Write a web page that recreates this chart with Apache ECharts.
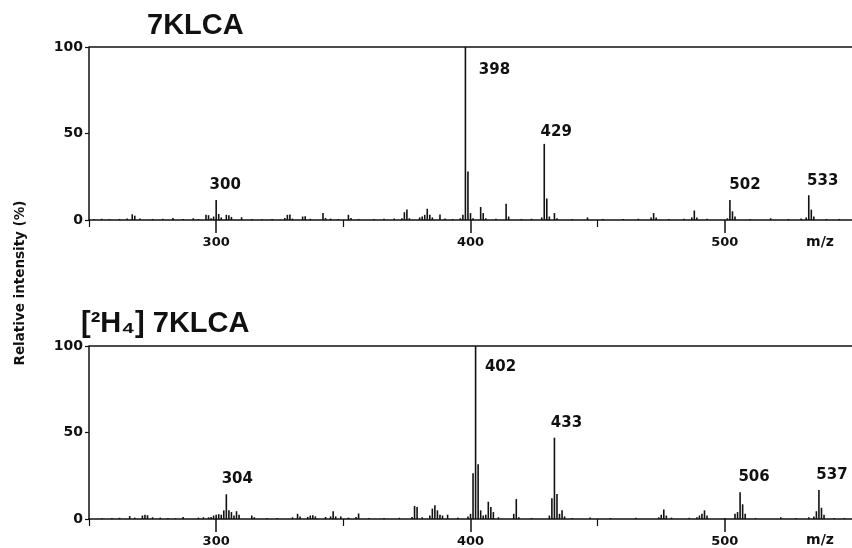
<!DOCTYPE html>
<html>
<head>
<meta charset="utf-8">
<script src="https://cdn.jsdelivr.net/npm/echarts@6/dist/echarts.min.js"></script>
<style>html,body{margin:0;padding:0;background:#fff}#c{width:852px;height:548px}</style>
</head>
<body>
<div id="c"></div>
<script>
// ---- data ----
const titleTop = '7KLCA';
const titleBottom = '[²H₄] 7KLCA';
const yAxisName = 'Relative intensity (%)';
const xTickLabels = [300, 400, 500];
const xMinorTicks = [250, 350, 450];
const yTickLabels = [0, 50, 100];

const mzTop = [252,255,258,262,265,267,268,270,275,279,283,287,291,293,296,297,298,299,300,301,302,304,305,306,310,314,318,322,327,328,329,330,334,335,337,342,343,345,348,352,353,356,362,366,370,373,374,375,376,380,381,382,383,384,385,388,390,393,396,397,398,399,400,401,404,405,406,410,414,415,420,424,428,429,430,431,433,434,440,446,452,460,466,471,472,473,478,484,487,488,489,493,501,502,503,504,510,518,525,530,532,533,534,535,540,545];
const intTop = [0.5,0.7,0.5,0.6,0.8,3.3,2.5,0.8,0.6,0.7,1.2,0.6,1.0,0.6,3.0,2.8,1.0,2.0,11.5,3.5,1.5,3.0,2.8,1.8,1.6,0.6,0.5,0.6,1.2,3.0,3.2,0.8,2.0,2.2,0.7,4.0,1.2,0.8,0.6,3.0,1.2,0.6,0.6,0.7,0.8,1.0,4.5,6.0,1.0,1.5,2.0,3.0,6.5,3.0,1.5,3.2,0.8,0.6,1.0,3.0,100,28,4.0,1.0,7.5,4.0,1.0,0.7,9.4,2.0,0.6,0.7,1.5,44,12.5,2.0,4.0,1.0,0.6,1.5,0.6,0.6,0.7,1.5,4.0,1.5,0.6,0.7,1.5,5.5,1.5,0.7,1.0,11.5,5.0,2.0,0.5,1.0,0.6,0.8,1.5,14.3,6.0,2.0,0.6,0.6];
const labelsTop = [300, 398, 429, 502, 533];

const mzBottom = [255,259,262,266,268,271,272,273,275,278,281,284,287,293,295,297,298,299,300,301,302,303,304,305,306,307,308,309,314,315,320,324,330,332,333,336,337,338,339,343,345,346,347,349,352,355,356,360,366,372,377,378,379,381,384,385,386,387,388,389,391,395,399,400,401,402,403,404,405,406,407,408,409,411,417,418,419,424,431,432,433,434,435,436,437,440,447,455,465,474,475,476,477,479,486,489,490,491,492,493,500,504,505,506,507,508,512,522,528,533,535,536,537,538,539,543,547];
const intBottom = [0.5,0.6,0.7,1.7,0.8,2.0,2.5,2.2,1.0,0.8,0.6,0.5,1.2,0.8,1.0,1.0,1.2,2.0,2.5,2.8,2.5,5.0,14.3,5.0,4.0,2.0,4.5,2.5,2.0,1.0,0.6,0.6,1.0,3.0,1.5,1.2,2.0,2.2,1.5,1.2,1.5,4.5,1.5,1.5,0.8,1.2,3.2,0.6,0.6,0.7,1.2,7.5,7.0,1.0,2.0,6.0,8.0,5.0,2.5,2.0,2.5,0.8,1.5,3.0,26.4,100,31.6,5.0,2.0,2.5,10.0,7.0,4.0,1.0,3.0,11.5,1.0,0.6,2.0,12.0,47,14.5,3.0,5.0,1.5,0.6,0.8,0.6,0.7,1.0,2.5,5.5,2.0,0.8,0.7,1.0,2.0,3.0,5.0,2.0,0.6,3.0,4.0,15.5,8.5,3.0,0.6,1.0,0.6,1.0,1.5,4.5,16.8,6.5,2.5,0.6,0.6];
const labelsBottom = [304, 402, 433, 506, 537];

// ---- styling / layout ----
const labelOffsets = {
  300:[9,-15], 398:[29,23], 429:[12,-12], 502:[15,-15], 533:[14,-14],
  304:[11,-15], 402:[25,21], 433:[12,-15], 506:[14,-15], 537:[13,-15]
};
const ink = '#111';
const numFont = {fontFamily:'DejaVu Sans', fontWeight:'bold', color: ink, textBorderWidth:0};
const grids = [
  {left:89, right:0, top:47, height:173},
  {left:89, right:0, top:346, height:173}
];

function xAxesFor(gi){
  return [
    {type:'value', gridIndex:gi, min:250, max:550, position:'bottom',
     axisLine:{show:true, onZero:false, lineStyle:{color:ink, width:1.5}},
     axisTick:{show:true, customValues:xTickLabels, length:13, lineStyle:{color:ink, width:1.5}},
     axisLabel:{show:true, customValues:xTickLabels, margin:16, fontSize:13, ...numFont},
     splitLine:{show:false}},
    {type:'value', gridIndex:gi, min:250, max:550, position:'bottom',
     axisLine:{show:false, onZero:false},
     axisTick:{show:true, customValues:xMinorTicks, length:7, lineStyle:{color:ink, width:1.2}},
     axisLabel:{show:false}, splitLine:{show:false}}
  ];
}
function yAxisFor(gi){
  return {type:'value', gridIndex:gi, min:0, max:100, interval:50,
    axisLine:{show:true, lineStyle:{color:ink, width:1.5}},
    axisTick:{show:true, length:4, lineStyle:{color:ink, width:1.2}},
    axisLabel:{show:true, margin:6, fontSize:14, ...numFont,
      formatter: v => yTickLabels.includes(v) ? String(v) : ''},
    splitLine:{show:false}};
}
function barSeries(gi, mz, ints){
  return {type:'bar', xAxisIndex:gi*2, yAxisIndex:gi, barWidth:1.6, silent:true,
    itemStyle:{color:ink}, animation:false,
    data: mz.map((m,i)=>[m, ints[i]]),
    markLine:{silent:true, symbol:'none', animation:false,
      label:{show:false}, lineStyle:{color:ink, width:1.5, type:'solid'},
      data:[{yAxis:100}]}};
}
function labelSeries(gi, mz, ints, labels){
  return {type:'scatter', xAxisIndex:gi*2, yAxisIndex:gi, symbolSize:0, silent:true, animation:false,
    itemStyle:{color:ink, opacity:1},
    data: labels.map(p => {
      const v = ints[mz.indexOf(p)];
      return {value:[p, v], label:{show:true, position:'inside', offset:labelOffsets[p], opacity:1,
        formatter:String(p), fontSize:15, ...numFont}};
    })};
}

const chart = echarts.init(document.getElementById('c'), null, {renderer:'canvas'});
chart.setOption({
  animation:false,
  backgroundColor:'#fff',
  grid: grids,
  xAxis: [...xAxesFor(0), ...xAxesFor(1)],
  yAxis: [yAxisFor(0), yAxisFor(1)],
  series: [
    barSeries(0, mzTop, intTop), labelSeries(0, mzTop, intTop, labelsTop),
    barSeries(1, mzBottom, intBottom), labelSeries(1, mzBottom, intBottom, labelsBottom)
  ],
  graphic: [
    {type:'text', left:147, top:11, style:{text:titleTop, fontFamily:'Liberation Sans', fontWeight:'bold', fontSize:29, fill:ink}},
    {type:'text', left:81, top:309, style:{text:titleBottom, fontFamily:'Liberation Sans', fontWeight:'bold', fontSize:29, fill:ink}},
    {type:'text', x:20, y:283, rotation:Math.PI/2, style:{text:yAxisName, fontFamily:'DejaVu Sans', fontWeight:'bold', fontSize:13.5, fill:ink, align:'center', verticalAlign:'middle'}},
    {type:'text', x:820, y:242, style:{text:'m/z', fontFamily:'DejaVu Sans', fontWeight:'bold', fontSize:14, fill:ink, align:'center', verticalAlign:'middle'}},
    {type:'text', x:820, y:540, style:{text:'m/z', fontFamily:'DejaVu Sans', fontWeight:'bold', fontSize:14, fill:ink, align:'center', verticalAlign:'middle'}}
  ]
});
</script>
</body>
</html>
